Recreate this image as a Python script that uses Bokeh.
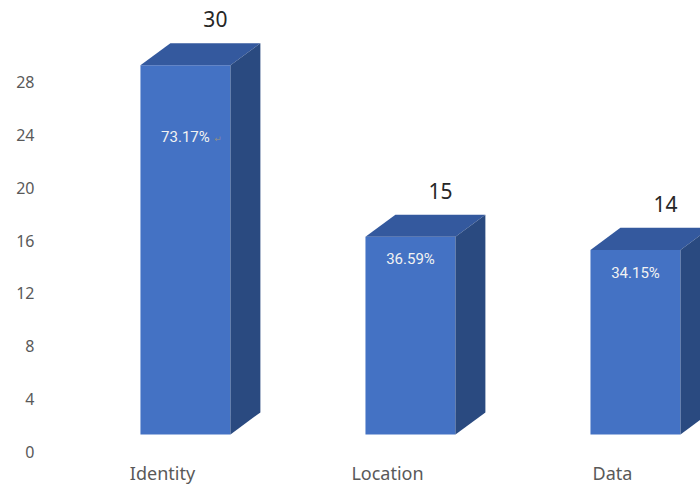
from bokeh.plotting import figure
from bokeh.models import FixedTicker, Range1d
from bokeh.core.properties import value
from bokeh.embed import file_html
from bokeh.resources import INLINE

# ---- data ----
categories = ["Identity", "Location", "Data"]
counts = [30, 15, 14]
percent_labels = ["73.17%", "36.59%", "34.15%"]
y_ticks = [0, 4, 8, 12, 16, 20, 24, 28]

# ---- style / geometry ----
AXIS_MAX = 28          # 3D value axis maximum: taller bars are clipped here
FLOOR = 1.3            # front face sits slightly above the 0 tick (3D floor)
FRONT_L, FRONT_R = -0.098, 0.302   # front face extents relative to category tick
DX, DY = 0.133, 1.67               # 3D depth offset
VAL_GAP = 1.82
pct_drop = [5.4, 1.67, 1.75]

FRONT_C = "#4472C4"
TOP_C = "#34599E"
SIDE_C = "#2A4A80"

p = figure(width=700, height=490, output_backend="svg", toolbar_location=None,
           x_range=Range1d(-0.52, 2.391), y_range=Range1d(-0.30, 34.22),
           min_border_left=45, min_border_right=0, min_border_top=0, min_border_bottom=35)
p.outline_line_color = None
p.xgrid.visible = False
p.ygrid.visible = False
p.background_fill_color = "white"

xs_top, ys_top, xs_side, ys_side = [], [], [], []
lefts, rights, tops = [], [], []
val_x, val_y, pct_x, pct_y = [], [], [], []
for i, v in enumerate(counts):
    h = min(v, AXIS_MAX)
    l, r = i + FRONT_L, i + FRONT_R
    b, t = FLOOR, FLOOR + h
    lefts.append(l); rights.append(r); tops.append(t)
    xs_top.append([l, l + DX, r + DX, r]); ys_top.append([t, t + DY, t + DY, t])
    xs_side.append([r, r + DX, r + DX, r]); ys_side.append([t, t + DY, b + DY, b])
    val_x.append((l + r) / 2 + DX); val_y.append(t + DY + VAL_GAP)
    pct_x.append((l + r) / 2); pct_y.append(t - pct_drop[i])

p.quad(left=lefts, right=rights, bottom=[FLOOR] * 3, top=tops,
       fill_color=FRONT_C, line_color=None)
p.patches(xs_top, ys_top, fill_color=TOP_C, line_color=None)
p.patches(xs_side, ys_side, fill_color=SIDE_C, line_color=None)

p.text(x=val_x, y=val_y, text=[str(c) for c in counts], text_align="center",
       text_baseline="middle", text_font=value("Noto Sans"), text_font_size="21px",
       text_color="#262626")
p.text(x=pct_x, y=pct_y, text=percent_labels, text_align="center",
       text_baseline="middle", text_font=value("Roboto"),
       text_font_size="15px", text_color="#F2F2F2")
p.text(x=[pct_x[0] + 0.145], y=[pct_y[0] - 0.15], text=["\u21b5"], text_align="center",
       text_baseline="middle", text_font=value("DejaVu Sans"), text_font_size="9px",
       text_color="#8C8C8C")

p.yaxis.ticker = FixedTicker(ticks=y_ticks)
p.yaxis.axis_line_color = None
p.yaxis.major_tick_line_color = None
p.yaxis.minor_tick_line_color = None
p.yaxis.major_tick_out = 0
p.yaxis.major_label_standoff = 11
p.yaxis.major_label_text_font = "Noto Sans"
p.yaxis.major_label_text_font_size = "16px"
p.yaxis.major_label_text_color = "#595959"

p.xaxis.ticker = FixedTicker(ticks=list(range(len(categories))))
p.xaxis.major_label_overrides = {i: c for i, c in enumerate(categories)}
p.xaxis.axis_line_color = None
p.xaxis.major_tick_line_color = None
p.xaxis.minor_tick_line_color = None
p.xaxis.major_tick_out = 0
p.xaxis.major_label_standoff = 5
p.xaxis.major_label_text_font = "Noto Sans"
p.xaxis.major_label_text_font_size = "18px"
p.xaxis.major_label_text_color = "#595959"

open("out.html", "w").write(file_html(p, INLINE))
